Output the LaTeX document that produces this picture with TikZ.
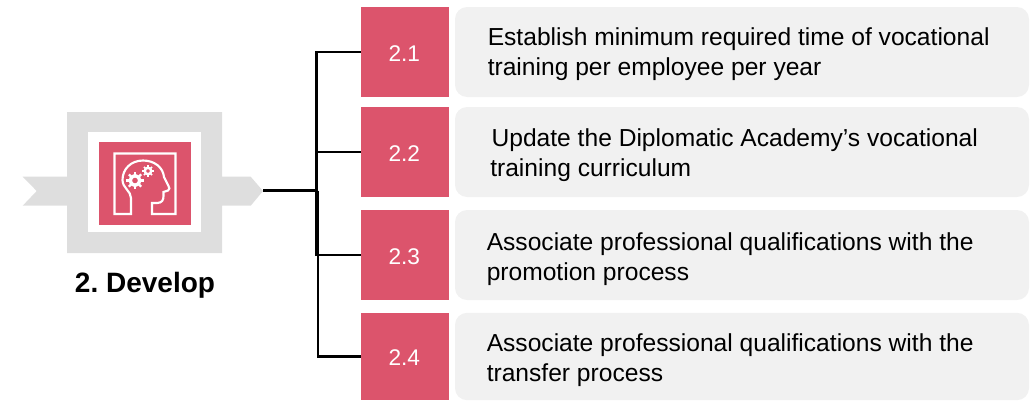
\documentclass[tikz,border=0pt]{standalone}
\usepackage{fontspec}
\setmainfont{Liberation Sans}
\frenchspacing
\definecolor{rosered}{HTML}{DC546C}
\definecolor{panelgray}{HTML}{F1F1F1}
\definecolor{framegray}{HTML}{DEDEDE}
\newcommand{\numtext}[1]{\hspace*{-1pt}\raisebox{-0.8pt}[11.9pt][0pt]{#1}}
\tikzset{
  numbox/.style={fill=rosered,text=white,inner sep=0pt,minimum width=66pt,font=\fontsize{17}{20}\selectfont},
  panel/.style={fill=panelgray,rounded corners=9pt,inner sep=0pt,minimum width=430.5pt},
  desc/.style={anchor=west,inner sep=0pt,align=left,font=\fontsize{18.45}{22.5}\selectfont},
  conn/.style={draw=black,line width=1.6pt},
  mainconn/.style={draw=black,line width=2.2pt},
  iconline/.style={draw=white,line width=1.6pt,line join=miter}
}
\begin{document}
\begin{tikzpicture}[x=0.75pt,y=-0.75pt]
\useasboundingbox (0,0) rectangle (1030,400);
% chevron frame
\fill[framegray] (22.7,176.7) -- (67,176.7) -- (67,112) -- (222,112) -- (222,176.7) -- (250.7,176.7) -- (263,191) -- (250.7,205.7) -- (222,205.7) -- (222,253) -- (67,253) -- (67,205.7) -- (22.7,205.7) -- (36.7,191) -- cycle;
\fill[white] (87.7,132) rectangle (201,232);
\fill[rosered] (99,142) rectangle (191,225);
% icon
\draw[iconline] (131,214) -- (114.5,214) -- (114.5,153.5) -- (175.5,153.5) -- (175.5,214) -- (152,214) -- (152,203)
  -- (157,203) .. controls (162,203) and (163.5,200) .. (163.5,196) -- (163.5,192) -- (168,190.5)
  .. controls (170,189.5) and (169.5,187.5) .. (168.5,186) -- (164,177)
  .. controls (163,167) and (154,160.5) .. (143,160.5)
  .. controls (131,160.5) and (122.5,169) .. (122.5,180)
  .. controls (122.5,188) and (131,191) .. (131,198) -- cycle;
\draw[white,line width=2.6pt] (135,180.5) circle (3.6pt);
\foreach \a in {0,45,...,315}{\draw[white,line width=1.6pt] (135,180.5) ++(\a:4.4pt) -- ++(\a:2.1pt);}
\draw[white,line width=1.8pt] (148,171) circle (2.4pt);
\foreach \a in {0,45,...,315}{\draw[white,line width=1.2pt] (148,171) ++(\a:2.9pt) -- ++(\a:1.4pt);}
% label
\node[inner sep=0pt,font=\fontsize{21}{25}\bfseries\selectfont] (title) at (145,285.5) {2. Develop};
% boxes
\node[numbox,minimum height=67.5pt] (n1) at (405,52) {\numtext{2.1}};
\node[numbox,minimum height=67.5pt] (n2) at (405,152) {\numtext{2.2}};
\node[numbox,minimum height=67.5pt] (n3) at (405,255) {\numtext{2.3}};
\node[numbox,minimum height=65.5pt] (n4) at (405,356.5) {\numtext{2.4}};
\node[panel,minimum height=67.5pt] (p1) at (742,52) {};
\node[panel,minimum height=67.5pt] (p2) at (742,152) {};
\node[panel,minimum height=67.5pt] (p3) at (742,255) {};
\node[panel,minimum height=65.5pt] (p4) at (742,356.5) {};
\node[desc] (t1) at (487.5,54) {Establish minimum required time of vocational\\training per employee per year};
\node[desc] (t2) at (490,155) {\hspace*{1pt}Update the Diplomatic Academy’s vocational\\training curriculum};
\node[desc] (t3) at (486.5,259) {Associate professional qualifications with the\\promotion process};
\node[desc] (t4) at (486.5,360) {Associate professional qualifications with the\\transfer process};
% connectors
\coordinate (tip) at (263,190.5);
\coordinate (jl) at (316.5,190.5);
\coordinate (jr) at (318,190.5);
\draw[mainconn] (tip) -- (jr);
\draw[conn] (n1.west) -| (jl) |- (n3.west);
\draw[conn] (n2.west) -- (n2.west -| jl);
\draw[conn] (jr) |- (n4.west);
\end{tikzpicture}
\end{document}
